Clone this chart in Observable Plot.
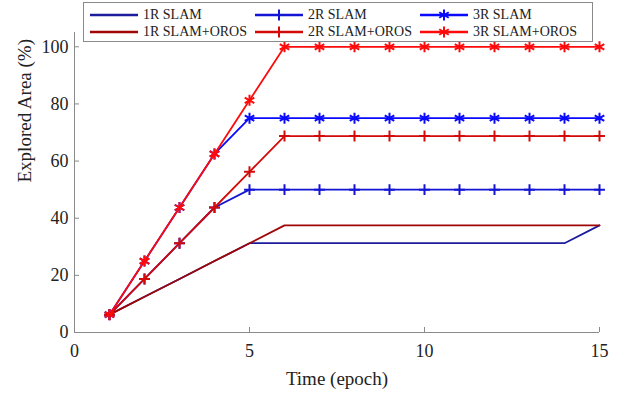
<!DOCTYPE html>
<html>
<head>
<meta charset="utf-8">
<script src="https://cdn.jsdelivr.net/npm/d3@7"></script>
<script src="https://cdn.jsdelivr.net/npm/@observablehq/plot@0.6"></script>
<style>
  html, body { margin: 0; padding: 0; background: #fff; }
  #wrap { position: relative; width: 622px; height: 394px; font-family: "Liberation Serif", "DejaVu Serif", serif; }
  #wrap svg text { font-family: "Liberation Serif", "DejaVu Serif", serif; }
  #legend { position: absolute; left: 83px; top: 2px; width: 510px; height: 40px; border: 1px solid #8a8a8a; background: #fff; box-sizing: border-box; }
  .item { position: absolute; height: 18px; display: flex; align-items: center; font-size: 14px; color: #222; white-space: nowrap; }
  .item svg { margin-right: 4px; }
</style>
</head>
<body>
<div id="wrap"><div id="legend"></div></div>
<script>
const epochs = [1, 2, 3, 4, 5, 6, 7, 8, 9, 10, 11, 12, 13, 14, 15];
const seriesNames = ["1R SLAM", "2R SLAM", "3R SLAM", "1R SLAM+OROS", "2R SLAM+OROS", "3R SLAM+OROS"];
const slam1 = [6.25, 12.5, 18.75, 25, 31.25, 31.25, 31.25, 31.25, 31.25, 31.25, 31.25, 31.25, 31.25, 31.25, 37.5];
const slam2 = [6.25, 18.75, 31.25, 43.75, 50, 50, 50, 50, 50, 50, 50, 50, 50, 50, 50];
const slam3 = [6.25, 25, 43.75, 62.5, 75, 75, 75, 75, 75, 75, 75, 75, 75, 75, 75];
const oros1 = [6.25, 12.5, 18.75, 25, 31.25, 37.5, 37.5, 37.5, 37.5, 37.5, 37.5, 37.5, 37.5, 37.5, 37.5];
const oros2 = [6.25, 18.75, 31.25, 43.75, 56.25, 68.75, 68.75, 68.75, 68.75, 68.75, 68.75, 68.75, 68.75, 68.75, 68.75];
const oros3 = [6.25, 25, 43.75, 62.5, 81.25, 100, 100, 100, 100, 100, 100, 100, 100, 100, 100];
const xTicks = [0, 5, 10, 15];
const yTicks = [0, 20, 40, 60, 80, 100];

const seriesValues = [slam1, slam2, slam3, oros1, oros2, oros3];
const colors = ["#1c1c9c", "#1414d4", "#0a0aff", "#a00606", "#d20a0a", "#ff0a0a"];
const symbols = [null, "plus", "asterisk", null, "plus", "asterisk"];
const symbolR = {plus: 3.6, asterisk: 5.2};

const data = [];
seriesNames.forEach((name, i) => {
  epochs.forEach((e, j) => data.push({series: name, epoch: e, value: seriesValues[i][j]}));
});

const marks = [
  Plot.ruleX([0], {y1: 0, y2: 105, stroke: "#8a8a8a"}),
  Plot.ruleY([0], {stroke: "#8a8a8a"}),
  Plot.axisX({ticks: xTicks, tickSize: -5, tickPadding: 17, fontSize: 18, stroke: "#8a8a8a", color: "#222", label: null}),
  Plot.axisY({ticks: yTicks, tickSize: -5, tickPadding: 11, fontSize: 18, stroke: "#8a8a8a", color: "#222", label: null})
];
seriesNames.forEach((name, i) => {
  const d = data.filter(r => r.series === name);
  marks.push(Plot.line(d, {x: "epoch", y: "value", stroke: colors[i], strokeWidth: 1.8}));
  if (symbols[i]) {
    marks.push(Plot.dot(d, {x: "epoch", y: "value", symbol: symbols[i], r: symbolR[symbols[i]], stroke: colors[i], strokeWidth: 2}));
  }
});
marks.push(Plot.text(["Time (epoch)"], {frameAnchor: "bottom", dy: 46, fontSize: 19, fill: "#222", lineAnchor: "middle"}));
marks.push(Plot.text(["Explored Area (%)"], {frameAnchor: "left", dx: -50, rotate: -90, fontSize: 19, fill: "#222", lineAnchor: "middle"}));

const chart = Plot.plot({
  width: 622,
  height: 394,
  marginLeft: 74,
  marginRight: 23,
  marginTop: 32,
  marginBottom: 62,
  style: {fontFamily: "'Liberation Serif', 'DejaVu Serif', serif", background: "#fff"},
  x: {domain: [0, 15]},
  y: {domain: [0, 105]},
  marks
});
const wrap = document.getElementById("wrap");
wrap.insertBefore(chart, wrap.firstChild);

// legend
const legend = d3.select("#legend");
seriesNames.forEach((name, i) => {
  const col = i % 3, row = Math.floor(i / 3);
  const item = legend.append("div").attr("class", "item")
    .style("left", (5 + col * 165) + "px")
    .style("top", (3 + row * 17) + "px");
  const svg = item.append("svg").attr("width", 50).attr("height", 18);
  svg.append("line").attr("x1", 1).attr("x2", 49).attr("y1", 9).attr("y2", 9)
    .attr("stroke", colors[i]).attr("stroke-width", 2.4);
  if (symbols[i]) {
    const r = symbolR[symbols[i]];
    const sym = symbols[i] === "plus" ? d3.symbolPlus : d3.symbolAsterisk;
    svg.append("path").attr("d", d3.symbol(sym, r * r * Math.PI)())
      .attr("transform", "translate(25,9)")
      .attr("fill", "none").attr("stroke", colors[i]).attr("stroke-width", 2);
  }
  item.append("span").text(name);
});
</script>
</body>
</html>
